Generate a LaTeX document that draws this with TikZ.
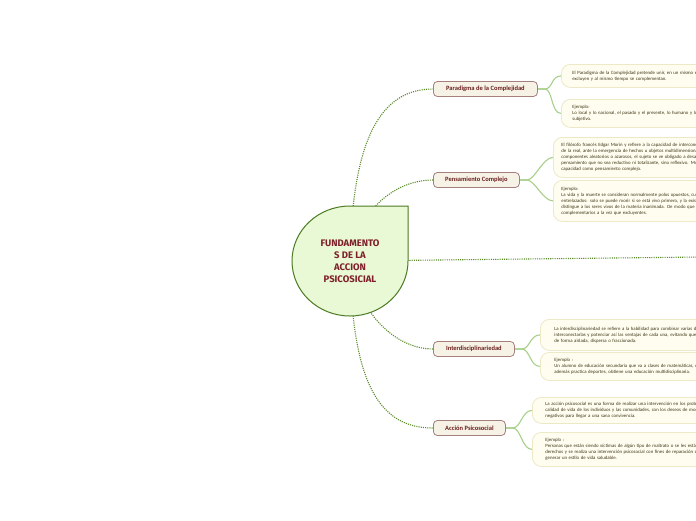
\documentclass[tikz,border=0pt]{standalone}
\usepackage{fontspec}
\setmainfont{Carlito}
\newfontfamily\headfont{Fira Sans}
\pgfdeclarelayer{background}
\pgfsetlayers{background,main}
\definecolor{cfill}{HTML}{E9F8D5}
\definecolor{cborder}{HTML}{4B7B22}
\definecolor{ctext}{HTML}{7F1F2A}
\definecolor{dotcol}{HTML}{5A8C2B}
\definecolor{bfill}{HTML}{F6F3E6}
\definecolor{bborder}{HTML}{A57F7C}
\definecolor{btext}{HTML}{6B1E1E}
\definecolor{leafcol}{HTML}{A8D08A}
\definecolor{lfill}{HTML}{FEFDF0}
\definecolor{lborder}{HTML}{EDE8C5}
\definecolor{ltext}{HTML}{3E3414}
\begin{document}
\begin{tikzpicture}[x=1pt,y=-1pt,
  dotline/.style={draw=dotcol,line width=1.1pt,dash pattern=on 1.1pt off 1.1pt},
  leafline/.style={draw=leafcol,line width=1.1pt},
  branch/.style={draw=bborder,fill=bfill,rounded corners=4pt,line width=0.8pt,
    font=\bfseries\fontsize{6.5}{7}\selectfont,text=btext,minimum height=15pt,
    inner xsep=0pt,anchor=west},
  leaf/.style={draw=lborder,fill=lfill,rounded corners=9pt,line width=0.8pt,
    anchor=north west,text width=330pt,align=left,inner ysep=0pt,
    font=\fontsize{4.8}{6}\selectfont,text=ltext}]
\useasboundingbox (0,0) rectangle (696,520);
\clip (0,0) rectangle (696,520);
% central node
\path[draw=cborder,fill=cfill,line width=1pt] (350,206) -- (408,206) -- (408,261)
  arc[start angle=0,end angle=270,x radius=58,y radius=55] -- cycle;
\node[font=\headfont\bfseries\fontsize{9.5}{11.9}\selectfont,align=center,text=ctext] (c) at (350,261)
  {FUNDAMENTO\\S DE LA\\ACCION\\PSICOSICIAL};
% branches
\node[branch,minimum width=104pt] (p) at (433,89) {Paradigma de la Complejidad};
\node[branch,minimum width=86pt] (pc) at (433,180) {Pensamiento Complejo};
\node[branch,minimum width=81pt] (i) at (433,349) {Interdisciplinariedad};
\node[branch,minimum width=72pt] (a) at (433,428) {Acción Psicosocial};
\coordinate (r) at (700,257);
% leaves
\node[leaf,inner xsep=11pt,minimum height=23pt] (p1) at (561,64)
  {El Paradigma de la Complejidad pretende unir, en un mismo espacio, conceptos que se\\
   excluyen y al mismo tiempo se complementan.};
\node[leaf,inner xsep=11pt,minimum height=28pt] (p2) at (561,99)
  {Ejemplo:\\
   Lo local y lo nacional, el pasado y el presente, lo humano y lo ecológico, lo objetivo y lo\\
   subjetivo.};
\node[leaf,inner xsep=8pt,minimum height=40pt] (pc1) at (553,137)
  {El filósofo francés Edgar Morin y refiere a la capacidad de interconectar distintas dimensiones\\
   de la real, ante la emergencia de hechos u objetos multidimensionales, interactivos y con\\
   componentes aleatorios o azarosos, el sujeto se ve obligado a desarrollar una estrategia de\\
   pensamiento que no sea reductivo ni totalizante, sino reflexivo. Morin denominó a esa\\
   capacidad como pensamiento complejo.};
\node[leaf,inner xsep=8pt,minimum height=41pt] (pc2) at (553,180)
  {Ejemplo:\\
   La vida y la muerte se consideran normalmente polos opuestos, cuando en realidad están\\
   entrelazados: solo se puede morir si se está vivo primero, y la existencia de la muerte\\
   distingue a los seres vivos de la materia inanimada. De modo que se trata de conceptos\\
   complementarios a la vez que excluyentes.};
\node[leaf,inner xsep=14pt,minimum height=31pt] (i1) at (540,319)
  {La interdisciplinariedad se refiere a la habilidad para combinar varias disciplinas, es decir,\\
   interconectarlas y potenciar así las ventajas de cada una, evitando que se desarrollen\\
   de forma aislada, dispersa o fraccionada.};
\node[leaf,inner xsep=14pt,minimum height=28pt] (i2) at (540,352)
  {Ejemplo :\\
   Un alumno de educación secundaria que va a clases de matemáticas, ciencias, literatura, y\\
   además practica deportes, obtiene una educación multidisciplinaria.};
\node[leaf,inner xsep=13pt,minimum height=26pt] (a1) at (532,397)
  {La acción psicosocial es una forma de realizar una intervención en los problemas de\\
   calidad de vida de los individuos y las comunidades, con los deseos de modificar los aspectos\\
   negativos para llegar a una sana convivencia.};
\node[leaf,inner xsep=13pt,minimum height=34pt] (a2) at (532,432)
  {Ejemplo :\\
   Personas que están siendo víctimas de algún tipo de maltrato o se les están vulnerando sus\\
   derechos y se realiza una intervención psicosocial con fines de reparación de daños y\\
   generar un estilo de vida saludable.};
\begin{pgfonlayer}{background}
\fill[white] (0,0) rectangle (696,520);
\draw[dotline] (c.center) .. controls (352,140) and (380,89) .. (p.west);
\draw[dotline] (c.center) .. controls (358,210) and (395,180) .. (pc.west);
\draw[dotline] (c.center) -- (r);
\draw[dotline] (c.center) .. controls (358,312) and (395,349) .. (i.west);
\draw[dotline] (c.center) .. controls (352,385) and (380,428) .. (a.west);
\draw[leafline] (p.east) -- ++(7,0) .. controls +(8,0) and +(-10,0) .. (p1.west);
\draw[leafline] (p.east) -- ++(7,0) .. controls +(8,0) and +(-10,0) .. (p2.west);
\draw[leafline] (pc.east) -- ++(7,0) .. controls +(8,0) and +(-10,0) .. (pc1.west);
\draw[leafline] (pc.east) -- ++(7,0) .. controls +(8,0) and +(-10,0) .. (pc2.west);
\draw[leafline] (i.east) -- ++(7,0) .. controls +(8,0) and +(-10,0) .. (i1.west);
\draw[leafline] (i.east) -- ++(7,0) .. controls +(8,0) and +(-10,0) .. (i2.west);
\draw[leafline] (a.east) -- ++(7,0) .. controls +(8,0) and +(-10,0) .. (a1.west);
\draw[leafline] (a.east) -- ++(7,0) .. controls +(8,0) and +(-10,0) .. (a2.west);
\end{pgfonlayer}
\end{tikzpicture}
\end{document}
